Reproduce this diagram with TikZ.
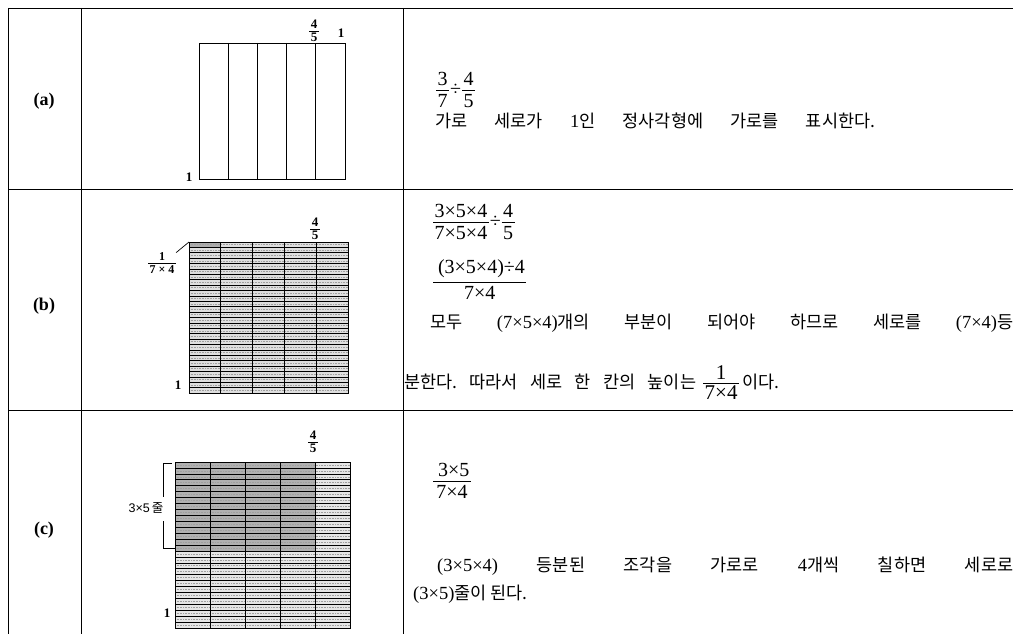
\documentclass[tikz,border=0pt]{standalone}
\usepackage{fontspec}
\setmainfont{Liberation Serif}
\newfontfamily\kr{Noto Sans CJK KR}
\newfontfamily\lsans{Liberation Sans}
\newcommand\fr[3][4pt]{\ensuremath{\vcenter{\halign{\hfil\kern1.5pt##\kern1.5pt\hfil\cr #2\cr\noalign{\kern#1\hrule height 0.6pt\kern#1}#3\cr}}}}
\newcommand\rn[1]{{\fontsize{18.5}{20}\selectfont\rmfamily #1}}
\begin{document}
\begin{tikzpicture}[x=1pt,y=-1pt,
  tline/.style={line width=0.9pt},
  txt/.style={anchor=base west, inner sep=0pt, font=\fontsize{17.5}{20}\selectfont},
  frc/.style={anchor=west, inner sep=0pt, font=\fontsize{20}{22}\selectfont},
  rowlab/.style={inner sep=0pt, font=\fontsize{18}{20}\selectfont\bfseries},
  small/.style={inner sep=0pt, font=\fontsize{13}{14}\selectfont\bfseries},
  gridbox/.style={draw, line width=0.9pt, inner sep=0pt, anchor=north west},
  rowline/.style={line width=0.6pt},
  hatch/.style={line width=0.7pt, gray!75, dash pattern=on 0.8pt off 0.8pt},
  colline/.style={line width=0.9pt}]
\useasboundingbox (0,0) rectangle (1019,634);
% table
\draw[tline] (8,8) -- (1013,8);
\draw[tline] (8,8) -- (8,634);
\draw[tline] (81,8) -- (81,634);
\draw[tline] (403,8) -- (403,634);
\draw[tline] (8,189) -- (1013,189);
\draw[tline] (8,410) -- (1013,410);
% row labels
\node[rowlab] (la) at (44,101) {(a)};
\node[rowlab] (lb) at (44,306) {(b)};
\node[rowlab] (lc) at (44,530) {(c)};
% grid a
\foreach \i in {1,...,4} \draw[colline] (199+\i*29.2,43) -- (199+\i*29.2,179);
\node[gridbox, minimum width=146pt, minimum height=136pt] (ga) at (199,43) {};
\node[small] (a45) at (314,31) {\fr[2pt]{4}{5}};
\node[small] (a1r) at (341,33) {1};
\node[small] (a1b) at (189,177) {1};
% grid b
\fill[gray!26] (189,242) rectangle (348,393);
\fill[gray!65] (189,242) rectangle (220.8,247.4);
\foreach \j in {0,...,27} \draw[hatch] (189,244.7+\j*5.393) -- (348,244.7+\j*5.393);
\foreach \j in {1,...,27} \draw[rowline] (189,242+\j*5.393) -- (348,242+\j*5.393);
\foreach \i in {1,...,4} \draw[colline] (189+\i*31.8,242) -- (189+\i*31.8,393);
\node[gridbox, minimum width=159pt, minimum height=151pt] (gb) at (189,242) {};
\node[small] (b45) at (315,229) {\fr[2pt]{4}{5}};
\node[small, font=\fontsize{12}{13}\selectfont\bfseries] (b17) at (162,263) {\fr[2pt]{1}{7 × 4}};
\draw[line width=0.7pt] (b17.north east) -- (gb.north west);
\node[small] (b1) at (178,385) {1};
% grid c
\fill[gray!20] (175,462) rectangle (350,628);
\fill[gray!62] (175,462) rectangle (315,550.9);
\foreach \j in {0,...,27} \draw[hatch] (175,465+\j*5.929) -- (350,465+\j*5.929);
\foreach \j in {1,...,27} \draw[rowline] (175,462+\j*5.929) -- (350,462+\j*5.929);
\foreach \i in {1,...,4} \draw[colline] (175+\i*35,462) -- (175+\i*35,628);
\node[gridbox, minimum width=175pt, minimum height=166pt] (gc) at (175,462) {};
\node[small] (c45) at (313,442) {\fr[2pt]{4}{5}};
\node[small] (c1) at (167,613) {1};
\node[inner sep=0pt, font=\fontsize{12.5}{13}\selectfont] (c35) at (146,508) {\lsans 3×5\,\kr 줄};
\draw[line width=0.7pt] (172,463) -- (163,463) -- (163,497);
\draw[line width=0.7pt] (163,521) -- (163,548) -- (175,548);
% text a
\node[frc] (fa) at (436,90) {\fr{3}{7}\hspace{1pt}÷\hspace{1pt}\fr{4}{5}};
\node[txt] (ta) at (435,127) {\hbox to 440pt{\kr 가로\hfill 세로가\hfill\rn{1}인\hfill 정사각형에\hfill 가로를\hfill 표시한다.}};
% text b
\node[frc] (fb1) at (433,222) {\fr{3×5×4}{7×5×4}\hspace{1pt}÷\hspace{1pt}\fr{4}{5}};
\node[frc] (fb2) at (433,280) {\fr{\,(3×5×4)÷4}{7×4}};
\node[txt] (tb1) at (430,328) {\hbox to 583pt{\kr 모두\hfill\rn{(7×5×4)}개의\hfill 부분이\hfill 되어야\hfill 하므로\hfill 세로를\hfill\rn{(7×4)}등}};
\node[txt] (tb2) at (404,388) {\hbox to 292pt{\kr 분한다.\hfill 따라서\hfill 세로\hfill 한\hfill 칸의\hfill 높이는}\hspace{7pt}{\fontsize{21}{22}\selectfont\fr[3pt]{1}{7×4}}\hspace{3pt}{\kr 이다.}};
% text c
\node[frc] (fc) at (433,481) {\fr{\,3×5}{7×4}};
\node[txt] (tc1) at (437,571) {\hbox to 576pt{\rn{(3×5×4)}\hfill{\kr 등분된}\hfill{\kr 조각을}\hfill{\kr 가로로}\hfill\rn{4}{\kr 개씩}\hfill{\kr 칠하면}\hfill{\kr 세로로}}};
\node[txt] (tc2) at (413,599) {\rn{(3×5)}{\kr 줄이 된다.}};
\end{tikzpicture}
\end{document}
